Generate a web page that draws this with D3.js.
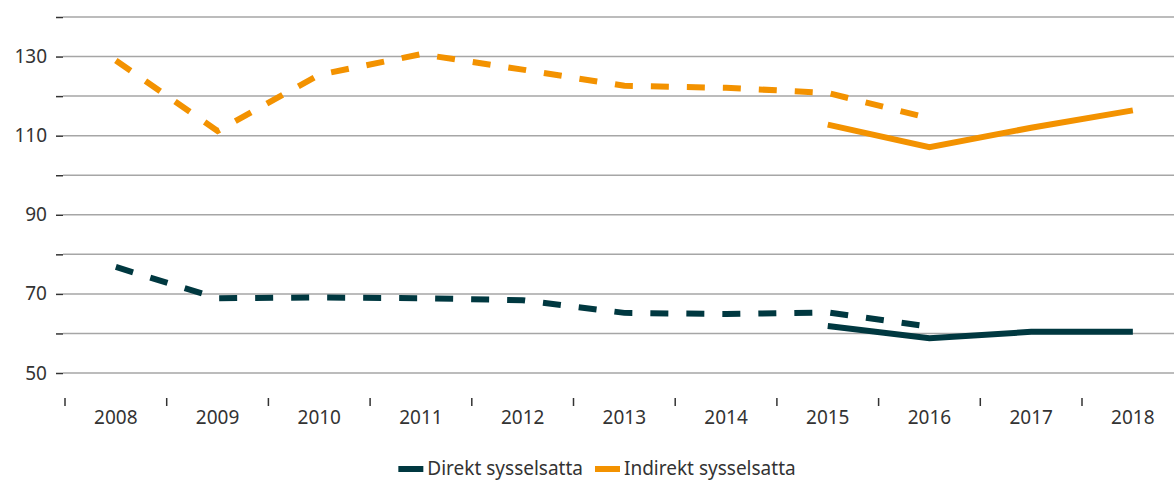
<!DOCTYPE html>
<html>
<head>
<meta charset="utf-8">
<script src="https://cdn.jsdelivr.net/npm/d3@7"></script>
<style>
  body { margin: 0; background: #fff; }
  text { font-family: "Noto Sans", sans-serif; fill: #333; }
</style>
</head>
<body>
<script>
var w = 1174;
var h = 481;

// data
var years = ["2008","2009","2010","2011","2012","2013","2014","2015","2016","2017","2018"];
var direktDashed   = [76.8, 68.9, 69.1, 68.9, 68.4, 65.2, 64.9, 65.3, 61.7, null, null];
var direktSolid    = [null, null, null, null, null, null, null, 61.9, 58.8, 60.4, 60.4];
var indirektDashed = [129.0, 111.2, 125.4, 130.6, 126.7, 122.6, 122.1, 120.8, 114.4, null, null];
var indirektSolid  = [null, null, null, null, null, null, null, 112.8, 107.1, 112.0, 116.4];
var yTicks = [50, 60, 70, 80, 90, 100, 110, 120, 130, 140];
var yLabels = [50, 70, 90, 110, 130];
var seriesNames = ["Direkt sysselsatta", "Indirekt sysselsatta"];
var colors = ["#003840", "#f39200"];

var svg = d3.select("body").append("svg")
    .attr("width", w)
    .attr("height", h);

// scales
var xScale = d3.scaleBand()
    .domain(years)
    .range([65, 65 + 11 * 101.7])
    .padding(0);

var yScale = d3.scaleLinear()
    .domain([50, 140])
    .range([373, 17]);

// grid lines
svg.append("g").selectAll("line")
    .data(yTicks)
    .enter()
    .append("line")
    .attr("x1", 63)
    .attr("x2", w)
    .attr("y1", function(d) { return yScale(d); })
    .attr("y2", function(d) { return yScale(d); })
    .attr("stroke", "#a6a6a6")
    .attr("stroke-width", 1.5);

// y axis
var yAxis = d3.axisLeft(yScale)
    .tickValues(yTicks)
    .tickSize(7)
    .tickPadding(9)
    .tickFormat(function(d) { return yLabels.indexOf(d) >= 0 ? d : ""; });

var gy = svg.append("g")
    .attr("transform", "translate(63,0)")
    .call(yAxis);
gy.select(".domain").remove();
gy.selectAll(".tick line").attr("stroke", "#333").attr("stroke-width", 1.5);
gy.selectAll(".tick text")
    .style("font-size", "19px")
    .style("font-family", "'Noto Sans', sans-serif")
    .attr("fill", "#333");

// x axis: labels at centres, ticks on band boundaries
var xAxis = d3.axisBottom(xScale).tickSize(0).tickPadding(0);
var gx = svg.append("g")
    .attr("transform", "translate(0,410)")
    .call(xAxis);
gx.select(".domain").remove();
gx.selectAll(".tick text")
    .style("font-size", "19px")
    .style("font-family", "'Noto Sans', sans-serif")
    .attr("fill", "#333")
    .attr("dy", "0.71em");

svg.append("g").selectAll("line")
    .data(years)
    .enter()
    .append("line")
    .attr("x1", function(d) { return xScale(d); })
    .attr("x2", function(d) { return xScale(d); })
    .attr("y1", 398)
    .attr("y2", 406)
    .attr("stroke", "#333")
    .attr("stroke-width", 1.5);

// lines
var line = d3.line()
    .defined(function(d) { return d.v != null; })
    .x(function(d) { return xScale(d.year) + xScale.bandwidth() / 2; })
    .y(function(d) { return yScale(d.v); });

function toPoints(arr) {
    return arr.map(function(v, i) { return { year: years[i], v: v }; });
}

var lines = [
    { values: indirektDashed, color: colors[1], dash: "18,18" },
    { values: indirektSolid,  color: colors[1], dash: null },
    { values: direktDashed,   color: colors[0], dash: "18,18" },
    { values: direktSolid,    color: colors[0], dash: null }
];

svg.append("g").selectAll("path")
    .data(lines)
    .enter()
    .append("path")
    .attr("d", function(d) { return line(toPoints(d.values)); })
    .attr("fill", "none")
    .attr("stroke", function(d) { return d.color; })
    .attr("stroke-width", 6)
    .attr("stroke-dasharray", function(d) { return d.dash; });

// legend (centred under the plot)
var legend = svg.append("g");
var lx = 0;
seriesNames.forEach(function(name, i) {
    legend.append("rect")
        .attr("x", lx)
        .attr("y", 466)
        .attr("width", 25)
        .attr("height", 6)
        .attr("fill", colors[i]);
    var t = legend.append("text")
        .attr("x", lx + 29)
        .attr("y", 475)
        .style("font-size", "19px")
        .text(name);
    lx = lx + 29 + t.node().getComputedTextLength() + 12;
});
var legendW = lx - 12;
legend.attr("transform", "translate(" + (597 - legendW / 2) + ",0)");
</script>
</body>
</html>
